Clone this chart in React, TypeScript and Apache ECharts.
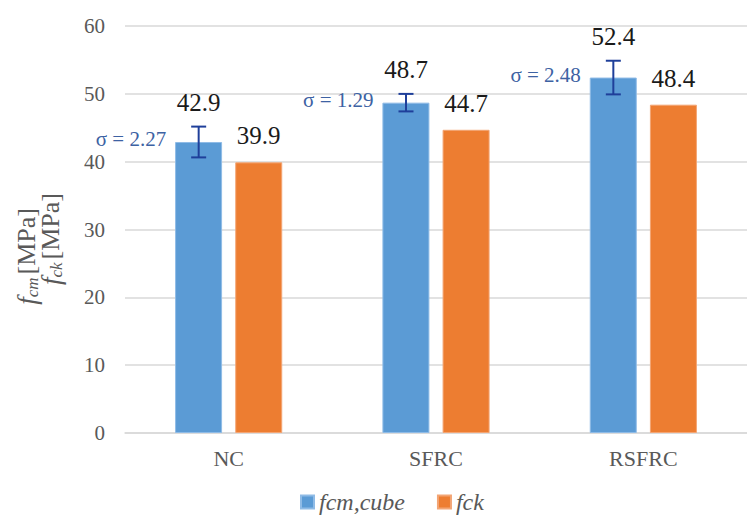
import React, { useEffect, useRef } from "react";
import * as echarts from "echarts";

const categories = ["NC", "SFRC", "RSFRC"];
const fcmCube = [42.9, 48.7, 52.4];
const fck = [39.9, 44.7, 48.4];
const sigma = [2.27, 1.29, 2.48];
const seriesNames = ["fcm,cube", "fck"];
const yTicks = { min: 0, max: 60, interval: 10 };

const FONT = "Liberation Serif";
const BLUE = "#5b9bd5";
const ORANGE = "#ed7d31";
const ERR = "#1f3f9a";
const SIGMA_COLOR = "#3d62a3";
const GRAY = "#595959";
const BAR_W = 47;
const BAR_GAP = "28%";
const OFFSET = 30;

function axisName(sub: string) {
  return {
    text: `{f|f}{s|${sub}} {n|[MPa]}`,
    align: "right",
    verticalAlign: "middle",
    fill: GRAY,
    fontFamily: FONT,
    rich: {
      f: { fontFamily: FONT, fontStyle: "italic", fontSize: 27, lineHeight: 27, fill: GRAY, verticalAlign: "top" },
      s: { fontFamily: FONT, fontStyle: "italic", fontSize: 17, lineHeight: 27, fill: GRAY, verticalAlign: "top", padding: [10, 0, 0, 0] },
      n: { fontFamily: FONT, fontSize: 26, lineHeight: 27, fill: GRAY, verticalAlign: "top" },
    },
  };
}

export default function App() {
  const ref = useRef<HTMLDivElement>(null);
  useEffect(() => {
    document.body.style.margin = "0";
    if (!ref.current) return;
    const chart = echarts.init(ref.current, null, { renderer: "svg" });
    const errData = categories.map((_, i) => [i, fcmCube[i], sigma[i]]);
    chart.setOption({
      animation: false,
      textStyle: { fontFamily: FONT },
      grid: { left: 125, top: 26, width: 633, bottom: 89, containLabel: false },
      legend: {
        bottom: 3,
        left: 295,
        data: seriesNames,
        itemWidth: 13,
        itemHeight: 13,
        itemGap: 32,
        icon: "rect",
        textStyle: { fontFamily: FONT, fontStyle: "italic", fontSize: 24, color: GRAY },
      },
      xAxis: {
        type: "category",
        data: categories,
        axisTick: { show: false },
        axisLine: { lineStyle: { color: "#d9d9d9", width: 1.5 } },
        axisLabel: { fontFamily: FONT, fontSize: 22, color: GRAY, margin: 14 },
      },
      yAxis: {
        type: "value",
        min: yTicks.min,
        max: yTicks.max,
        interval: yTicks.interval,
        axisLine: { show: false },
        axisTick: { show: false },
        splitLine: { lineStyle: { color: "#d9d9d9", width: 1.5 } },
        axisLabel: { fontFamily: FONT, fontSize: 21, color: GRAY, margin: 20 },
      },
      graphic: [
        { type: "text", x: 27, y: 208, rotation: Math.PI / 2, style: axisName("cm") },
        { type: "text", x: 51, y: 193, rotation: Math.PI / 2, style: axisName("ck") },
      ],
      series: [
        {
          name: seriesNames[0],
          type: "bar",
          data: fcmCube,
          barWidth: BAR_W,
          barGap: BAR_GAP,
          itemStyle: { color: BLUE, borderColor: "#8fbbe6", borderWidth: 1 },
        },
        {
          name: seriesNames[1],
          type: "bar",
          data: fck,
          barWidth: BAR_W,
          barGap: BAR_GAP,
          itemStyle: { color: ORANGE, borderColor: "#f3a574", borderWidth: 1 },
          label: {
            show: true,
            position: "top",
            distance: 14,
            fontFamily: FONT,
            fontSize: 25,
            color: "#1a1a1a",
            formatter: (p: any) => p.value.toFixed(1),
          },
        },
        {
          type: "custom",
          name: "err",
          z: 10,
          data: errData,
          encode: { x: 0, y: 1 },
          renderItem: (params: any, api: any) => {
            const idx = api.value(0);
            const v = api.value(1);
            const s = api.value(2);
            const c = api.coord([idx, v]);
            const top = api.coord([idx, v + s]);
            const bot = api.coord([idx, v - s]);
            const x = c[0] - OFFSET;
            const cap = 7.5;
            const ls = { stroke: ERR, lineWidth: 2 };
            return {
              type: "group",
              children: [
                { type: "line", shape: { x1: x, y1: top[1], x2: x, y2: bot[1] }, style: ls },
                { type: "line", shape: { x1: x - cap, y1: top[1], x2: x + cap, y2: top[1] }, style: ls },
                { type: "line", shape: { x1: x - cap, y1: bot[1], x2: x + cap, y2: bot[1] }, style: ls },
                {
                  type: "text",
                  x: x,
                  y: top[1] - 24,
                  style: {
                    text: v.toFixed(1),
                    align: "center",
                    verticalAlign: "middle",
                    fontFamily: FONT,
                    fontSize: 25,
                    fill: "#1a1a1a",
                  },
                },
                {
                  type: "text",
                  x: x - BAR_W / 2 - 9,
                  y: c[1] - 3,
                  style: {
                    text: "σ = " + s.toFixed(2),
                    align: "right",
                    verticalAlign: "middle",
                    fontFamily: FONT,
                    fontSize: 21,
                    fill: SIGMA_COLOR,
                  },
                },
              ],
            };
          },
        },
      ],
    });
    return () => chart.dispose();
  }, []);
  return <div ref={ref} style={{ width: 747, height: 522 }} />;
}
